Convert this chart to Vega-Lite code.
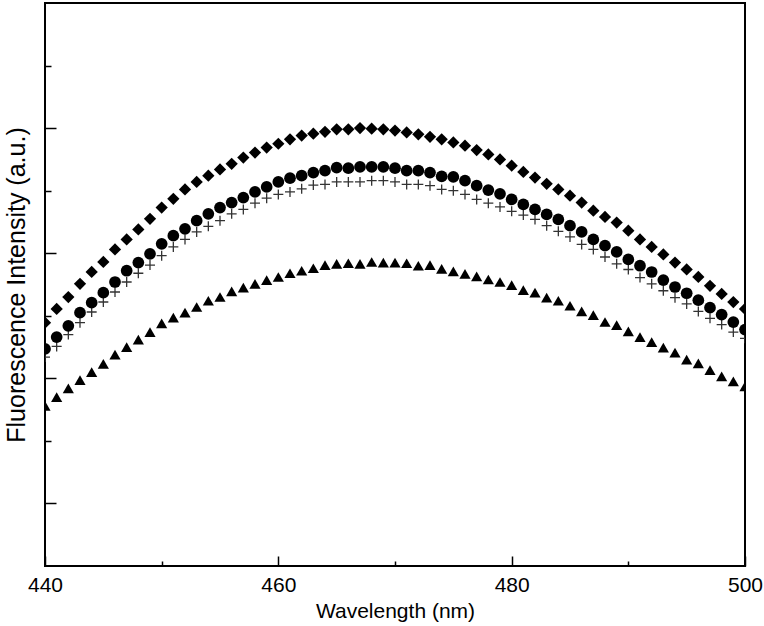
{
  "$schema": "https://vega.github.io/schema/vega-lite/v6.json",
  "width": 700,
  "height": 563,
  "autosize": "none",
  "padding": {"left": 45, "top": 3, "right": 19, "bottom": 60},
  "background": "white",
  "config": {
    "view": {"stroke": "black", "strokeWidth": 2},
    "axis": {"domain": false, "grid": false, "tickColor": "black", "tickWidth": 1.5, "labelFont": "Liberation Sans", "titleFont": "Liberation Sans", "titleFontWeight": "normal", "labelColor": "black", "titleColor": "black"}
  },
  "data": {"values": [
    {"s":"d","x":440,"y":389},{"s":"d","x":441,"y":411},{"s":"d","x":442,"y":430},{"s":"d","x":443,"y":451},{"s":"d","x":444,"y":470},{"s":"d","x":445,"y":486},{"s":"d","x":446,"y":506},{"s":"d","x":447,"y":522},{"s":"d","x":448,"y":538},{"s":"d","x":449,"y":555},{"s":"d","x":450,"y":573},{"s":"d","x":451,"y":587},{"s":"d","x":452,"y":602},{"s":"d","x":453,"y":614},{"s":"d","x":454,"y":624},{"s":"d","x":455,"y":634},{"s":"d","x":456,"y":643},{"s":"d","x":457,"y":653},{"s":"d","x":458,"y":661},{"s":"d","x":459,"y":669},{"s":"d","x":460,"y":675},{"s":"d","x":461,"y":682},{"s":"d","x":462,"y":688},{"s":"d","x":463,"y":691},{"s":"d","x":464,"y":694},{"s":"d","x":465,"y":698},{"s":"d","x":466,"y":698},{"s":"d","x":467,"y":700},{"s":"d","x":468,"y":699},{"s":"d","x":469,"y":698},{"s":"d","x":470,"y":696},{"s":"d","x":471,"y":693},{"s":"d","x":472,"y":690},{"s":"d","x":473,"y":686},{"s":"d","x":474,"y":682},{"s":"d","x":475,"y":677},{"s":"d","x":476,"y":672},{"s":"d","x":477,"y":665},{"s":"d","x":478,"y":658},{"s":"d","x":479,"y":650},{"s":"d","x":480,"y":640},{"s":"d","x":481,"y":630},{"s":"d","x":482,"y":621},{"s":"d","x":483,"y":611},{"s":"d","x":484,"y":602},{"s":"d","x":485,"y":592},{"s":"d","x":486,"y":581},{"s":"d","x":487,"y":568},{"s":"d","x":488,"y":558},{"s":"d","x":489,"y":549},{"s":"d","x":490,"y":536},{"s":"d","x":491,"y":522},{"s":"d","x":492,"y":510},{"s":"d","x":493,"y":498},{"s":"d","x":494,"y":485},{"s":"d","x":495,"y":474},{"s":"d","x":496,"y":462},{"s":"d","x":497,"y":448},{"s":"d","x":498,"y":435},{"s":"d","x":499,"y":422},{"s":"d","x":500,"y":411},
    {"s":"c","x":440,"y":347},{"s":"c","x":441,"y":366},{"s":"c","x":442,"y":384},{"s":"c","x":443,"y":405},{"s":"c","x":444,"y":421},{"s":"c","x":445,"y":437},{"s":"c","x":446,"y":454},{"s":"c","x":447,"y":472},{"s":"c","x":448,"y":485},{"s":"c","x":449,"y":499},{"s":"c","x":450,"y":515},{"s":"c","x":451,"y":528},{"s":"c","x":452,"y":539},{"s":"c","x":453,"y":552},{"s":"c","x":454,"y":563},{"s":"c","x":455,"y":573},{"s":"c","x":456,"y":581},{"s":"c","x":457,"y":589},{"s":"c","x":458,"y":598},{"s":"c","x":459,"y":606},{"s":"c","x":460,"y":614},{"s":"c","x":461,"y":620},{"s":"c","x":462,"y":624},{"s":"c","x":463,"y":629},{"s":"c","x":464,"y":632},{"s":"c","x":465,"y":637},{"s":"c","x":466,"y":636},{"s":"c","x":467,"y":638},{"s":"c","x":468,"y":638},{"s":"c","x":469,"y":638},{"s":"c","x":470,"y":636},{"s":"c","x":471,"y":632},{"s":"c","x":472,"y":632},{"s":"c","x":473,"y":629},{"s":"c","x":474,"y":623},{"s":"c","x":475,"y":622},{"s":"c","x":476,"y":616},{"s":"c","x":477,"y":608},{"s":"c","x":478,"y":601},{"s":"c","x":479,"y":595},{"s":"c","x":480,"y":586},{"s":"c","x":481,"y":578},{"s":"c","x":482,"y":570},{"s":"c","x":483,"y":562},{"s":"c","x":484,"y":554},{"s":"c","x":485,"y":544},{"s":"c","x":486,"y":534},{"s":"c","x":487,"y":522},{"s":"c","x":488,"y":512},{"s":"c","x":489,"y":502},{"s":"c","x":490,"y":490},{"s":"c","x":491,"y":480},{"s":"c","x":492,"y":470},{"s":"c","x":493,"y":457},{"s":"c","x":494,"y":446},{"s":"c","x":495,"y":436},{"s":"c","x":496,"y":425},{"s":"c","x":497,"y":413},{"s":"c","x":498,"y":402},{"s":"c","x":499,"y":390},{"s":"c","x":500,"y":378},
    {"s":"p","x":440,"y":334},{"s":"p","x":441,"y":351},{"s":"p","x":442,"y":370},{"s":"p","x":443,"y":389},{"s":"p","x":444,"y":406},{"s":"p","x":445,"y":422},{"s":"p","x":446,"y":438},{"s":"p","x":447,"y":454},{"s":"p","x":448,"y":468},{"s":"p","x":449,"y":481},{"s":"p","x":450,"y":496},{"s":"p","x":451,"y":510},{"s":"p","x":452,"y":522},{"s":"p","x":453,"y":534},{"s":"p","x":454,"y":543},{"s":"p","x":455,"y":552},{"s":"p","x":456,"y":563},{"s":"p","x":457,"y":570},{"s":"p","x":458,"y":580},{"s":"p","x":459,"y":588},{"s":"p","x":460,"y":594},{"s":"p","x":461,"y":598},{"s":"p","x":462,"y":603},{"s":"p","x":463,"y":609},{"s":"p","x":464,"y":610},{"s":"p","x":465,"y":614},{"s":"p","x":466,"y":614},{"s":"p","x":467,"y":614},{"s":"p","x":468,"y":616},{"s":"p","x":469,"y":616},{"s":"p","x":470,"y":614},{"s":"p","x":471,"y":610},{"s":"p","x":472,"y":610},{"s":"p","x":473,"y":608},{"s":"p","x":474,"y":602},{"s":"p","x":475,"y":600},{"s":"p","x":476,"y":594},{"s":"p","x":477,"y":586},{"s":"p","x":478,"y":580},{"s":"p","x":479,"y":574},{"s":"p","x":480,"y":567},{"s":"p","x":481,"y":561},{"s":"p","x":482,"y":554},{"s":"p","x":483,"y":544},{"s":"p","x":484,"y":535},{"s":"p","x":485,"y":526},{"s":"p","x":486,"y":514},{"s":"p","x":487,"y":506},{"s":"p","x":488,"y":494},{"s":"p","x":489,"y":483},{"s":"p","x":490,"y":474},{"s":"p","x":491,"y":461},{"s":"p","x":492,"y":451},{"s":"p","x":493,"y":440},{"s":"p","x":494,"y":429},{"s":"p","x":495,"y":419},{"s":"p","x":496,"y":407},{"s":"p","x":497,"y":396},{"s":"p","x":498,"y":386},{"s":"p","x":499,"y":374},{"s":"p","x":500,"y":364},
    {"s":"t","x":440,"y":256},{"s":"t","x":441,"y":270},{"s":"t","x":442,"y":284},{"s":"t","x":443,"y":297},{"s":"t","x":444,"y":310},{"s":"t","x":445,"y":323},{"s":"t","x":446,"y":338},{"s":"t","x":447,"y":350},{"s":"t","x":448,"y":362},{"s":"t","x":449,"y":374},{"s":"t","x":450,"y":388},{"s":"t","x":451,"y":397},{"s":"t","x":452,"y":405},{"s":"t","x":453,"y":414},{"s":"t","x":454,"y":424},{"s":"t","x":455,"y":430},{"s":"t","x":456,"y":439},{"s":"t","x":457,"y":445},{"s":"t","x":458,"y":451},{"s":"t","x":459,"y":457},{"s":"t","x":460,"y":462},{"s":"t","x":461,"y":468},{"s":"t","x":462,"y":472},{"s":"t","x":463,"y":476},{"s":"t","x":464,"y":481},{"s":"t","x":465,"y":483},{"s":"t","x":466,"y":484},{"s":"t","x":467,"y":483},{"s":"t","x":468,"y":486},{"s":"t","x":469,"y":485},{"s":"t","x":470,"y":485},{"s":"t","x":471,"y":484},{"s":"t","x":472,"y":480},{"s":"t","x":473,"y":481},{"s":"t","x":474,"y":475},{"s":"t","x":475,"y":471},{"s":"t","x":476,"y":467},{"s":"t","x":477,"y":463},{"s":"t","x":478,"y":458},{"s":"t","x":479,"y":454},{"s":"t","x":480,"y":449},{"s":"t","x":481,"y":441},{"s":"t","x":482,"y":437},{"s":"t","x":483,"y":429},{"s":"t","x":484,"y":424},{"s":"t","x":485,"y":416},{"s":"t","x":486,"y":407},{"s":"t","x":487,"y":401},{"s":"t","x":488,"y":390},{"s":"t","x":489,"y":385},{"s":"t","x":490,"y":375},{"s":"t","x":491,"y":366},{"s":"t","x":492,"y":358},{"s":"t","x":493,"y":349},{"s":"t","x":494,"y":341},{"s":"t","x":495,"y":330},{"s":"t","x":496,"y":324},{"s":"t","x":497,"y":313},{"s":"t","x":498,"y":303},{"s":"t","x":499,"y":295},{"s":"t","x":500,"y":287}
  ]},
  "encoding": {
    "x": {"field": "x", "type": "quantitative", "scale": {"domain": [440, 500], "nice": false, "zero": false},
      "axis": {"title": "Wavelength (nm)", "values": [440, 450, 460, 470, 480, 490, 500], "labelExpr": "datum.value % 20 === 0 ? datum.label : ''", "tickSize": {"condition": {"test": "datum.value % 20 === 0", "value": -10}, "value": -5}, "labelPadding": 18, "labelFontSize": 21, "titleFontSize": 21, "titlePadding": 5, "labelFlush": false}},
    "y": {"field": "y", "type": "quantitative", "scale": {"domain": [0, 900], "nice": false, "zero": false},
      "axis": {"title": "Fluorescence Intensity (a.u.)", "values": [100, 200, 300, 400, 500, 600, 700, 800], "labels": false, "tickSize": {"condition": {"test": "datum.value % 200 === 100", "value": -11}, "value": -6}, "titleFontSize": 25, "titlePadding": 15}}
  },
  "layer": [
    {
      "transform": [{"filter": "datum.s === 'p'"}],
      "mark": {"type": "point", "shape": "M-1,0H1M0,-1V1", "filled": false, "stroke": "#333333", "strokeWidth": 1.3, "size": 100, "opacity": 1, "clip": true}
    },
    {
      "transform": [{"filter": "datum.s !== 'p'"}],
      "mark": {"type": "point", "filled": true, "color": "black", "opacity": 1, "clip": true},
      "encoding": {
        "shape": {"field": "s", "type": "nominal", "scale": {"domain": ["d", "c", "t"], "range": ["diamond", "circle", "triangle-up"]}, "legend": null},
        "size": {"field": "s", "type": "nominal", "scale": {"domain": ["d", "c", "t"], "range": [150, 125, 170]}, "legend": null}
      }
    }
  ]
}
